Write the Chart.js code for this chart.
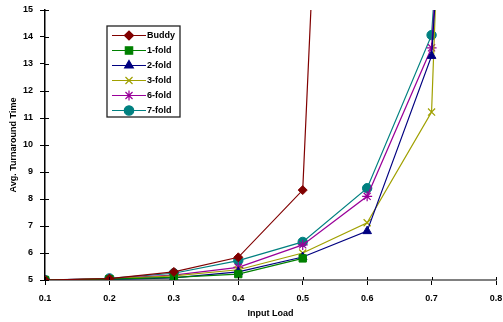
<!DOCTYPE html>
<html>
<head>
<meta charset="utf-8">
<script src="https://cdn.jsdelivr.net/npm/chart.js@4/dist/chart.umd.min.js"></script>
<style>
  html, body { margin: 0; padding: 0; background: #fff; }
  #wrap { width: 503px; height: 322px; }
</style>
</head>
<body>
<div id="wrap"><canvas id="chart" width="503" height="322"></canvas></div>
<script>
const loads = [0.1, 0.2, 0.3, 0.4, 0.5, 0.6, 0.7, 0.8];
const yTicks = [5, 6, 7, 8, 9, 10, 11, 12, 13, 14, 15];

const buddy = [5.0, 5.05, 5.3, 5.84, 8.33, 61];
const fold1 = [5.0, 5.03, 5.1, 5.22, 5.8];
const fold2 = [5.0, 5.02, 5.08, 5.3, 5.85, 6.81, 13.3, 50];
const fold3 = [5.0, 5.04, 5.15, 5.38, 6.0, 7.12, 11.22, 77];
const fold6 = [5.0, 5.05, 5.18, 5.47, 6.3, 8.1, 13.6, 50];
const fold7 = [5.0, 5.06, 5.25, 5.72, 6.41, 8.4, 14.07, 50];

const names = ['Buddy', '1-fold', '2-fold', '3-fold', '6-fold', '7-fold'];
const colors = ['#800000', '#008000', '#000080', '#A0A000', '#990099', '#008080'];
const markers = ['rectRot', 'rect', 'triangle', 'crossRot', 'star', 'circle'];
const sizes = [4.5, 5.2, 5, 5, 5, 4.7];
const series = [buddy, fold1, fold2, fold3, fold6, fold7];

function points(vals) {
  return vals.map((v, i) => ({ x: loads[i], y: v }));
}

const datasets = series.map((vals, i) => ({
  label: names[i],
  data: points(vals),
  borderColor: colors[i],
  backgroundColor: colors[i],
  borderWidth: 1.2,
  pointStyle: markers[i],
  pointRadius: sizes[i],
  pointBorderWidth: markers[i] === 'crossRot' || markers[i] === 'star' ? 1.2 : 1,
  tension: 0
}));

const FONT = '"Liberation Sans", Arial, sans-serif';

// legend box drawn inside the plot area
const boxLegend = {
  id: 'boxLegend',
  afterDraw(chart) {
    const ctx = chart.ctx;
    const x0 = 107, y0 = 26, w = 73, h = 91;
    ctx.save();
    ctx.fillStyle = '#fff';
    ctx.fillRect(x0, y0, w, h);
    ctx.strokeStyle = '#222';
    ctx.lineWidth = 1.3;
    ctx.strokeRect(x0, y0, w, h);
    ctx.font = 'bold 9px ' + FONT;
    ctx.textBaseline = 'middle';
    names.forEach((n, i) => {
      const y = y0 + 9.5 + i * 15;
      ctx.strokeStyle = colors[i];
      ctx.lineWidth = 1.2;
      ctx.beginPath();
      ctx.moveTo(x0 + 5, y);
      ctx.lineTo(x0 + 39, y);
      ctx.stroke();
      ctx.fillStyle = colors[i];
      Chart.helpers.drawPoint(ctx, {
        pointStyle: markers[i],
        radius: sizes[i],
        borderWidth: 1.2,
        rotation: 0
      }, x0 + 22, y);
      ctx.fillStyle = '#000';
      ctx.fillText(n, x0 + 40, y + 0.5);
    });
    ctx.restore();
  }
};

// tick marks on the inner side of both axes
const innerTicks = {
  id: 'innerTicks',
  afterDraw(chart) {
    const ctx = chart.ctx;
    const ys = chart.scales.y, xs = chart.scales.x;
    ctx.save();
    ctx.strokeStyle = '#000';
    ctx.lineWidth = 1;
    ys.ticks.forEach(t => {
      const y = Math.round(ys.getPixelForValue(t.value)) + 0.5;
      ctx.beginPath();
      ctx.moveTo(ys.right, y);
      ctx.lineTo(ys.right + 4, y);
      ctx.stroke();
    });
    xs.ticks.forEach(t => {
      const x = Math.round(xs.getPixelForValue(t.value)) + 0.5;
      ctx.beginPath();
      ctx.moveTo(x, xs.top);
      ctx.lineTo(x, xs.top - 3);
      ctx.stroke();
    });
    ctx.restore();
  }
};

const tickFont = { family: FONT, size: 9, weight: 'bold' };

new Chart(document.getElementById('chart'), {
  type: 'line',
  data: { datasets: datasets },
  options: {
    responsive: false,
    animation: false,
    layout: { padding: { top: 10, right: 7, bottom: 0, left: 0 } },
    plugins: {
      legend: { display: false },
      tooltip: { enabled: false }
    },
    scales: {
      x: {
        type: 'linear',
        min: 0.1,
        max: 0.8,
        afterBuildTicks(s) { s.ticks = loads.map(v => ({ value: v })); },
        afterFit(s) { s.height = 42; s.paddingLeft = 0; s.paddingRight = 0; },
        ticks: {
          color: '#000',
          font: tickFont,
          padding: 8,
          maxRotation: 0,
          callback: v => v.toFixed(1)
        },
        grid: { drawOnChartArea: false, color: '#000', tickLength: 5 },
        border: { color: '#808080', width: 2 },
        title: { display: true, text: 'Input Load', color: '#000', font: tickFont, padding: { top: 2, bottom: 3 } }
      },
      y: {
        min: 5,
        max: 15,
        afterBuildTicks(s) { s.ticks = yTicks.map(v => ({ value: v })); },
        afterFit(s) { s.width = 45; s.paddingTop = 0; s.paddingBottom = 0; },
        ticks: { color: '#000', font: tickFont, padding: 7 },
        grid: { drawOnChartArea: false, color: '#000', tickLength: 5 },
        border: { color: '#000', width: 1.5 },
        title: { display: true, text: 'Avg. Turnaround Time', color: '#000', font: tickFont, padding: { top: 8, bottom: 4 } }
      }
    }
  },
  plugins: [boxLegend, innerTicks]
});
</script>
</body>
</html>
